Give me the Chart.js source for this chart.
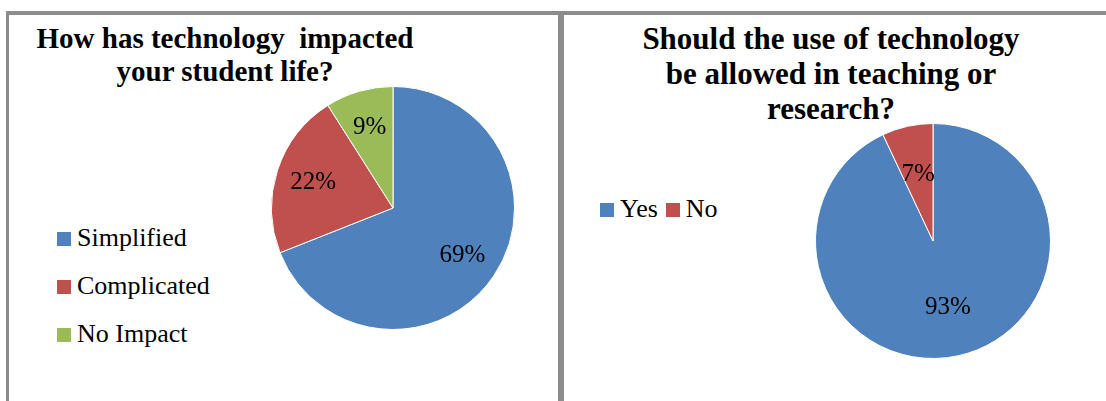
<html>
<head>
<script src="https://cdn.jsdelivr.net/npm/chart.js@4.4.1/dist/chart.umd.min.js"></script>
<style>
  body { margin: 0; background: #fff; width: 1106px; height: 401px; overflow: hidden; position: relative; }
  .panel { position: absolute; box-sizing: border-box; border: 0 solid #8c8c8c; }
  .title { position: absolute; font-family: "Times New Roman", "Liberation Serif", "DejaVu Serif", serif; font-weight: bold; text-align: center; white-space: nowrap; color: #000; }
  .legend { position: absolute; font-family: "Times New Roman", "Liberation Serif", "DejaVu Serif", serif; font-size: 26px; color: #000; white-space: nowrap; }
  .legend .sw { display: inline-block; width: 14px; height: 14px; margin-right: 6px; }
  .box { position: absolute; }
</style>
</head>
<body>
<div class="panel" style="left:6px;top:11px;width:555px;height:400px;border-left-width:3px;border-top-width:4px;border-right-width:3px;"></div>
<div class="panel" style="left:561px;top:11px;width:560px;height:400px;border-left-width:3px;border-top-width:4px;"></div>

<div class="title" id="title1" style="left:25px;top:22px;width:400px;font-size:29px;line-height:33px;"></div>
<div class="title" id="title2" style="left:631px;top:21px;width:400px;font-size:31px;line-height:35px;"></div>

<div class="legend" id="legend1" style="left:57px;top:214px;line-height:48px;"></div>
<div class="legend" id="legend2" style="left:600px;top:192px;line-height:34px;"></div>

<div class="box" style="left:271px;top:86px;width:244px;height:244px;"><canvas id="pie1"></canvas></div>
<div class="box" style="left:815px;top:123px;width:236px;height:236px;"><canvas id="pie2"></canvas></div>

<script>
// chart 1
let title1 = ['How has technology  impacted', 'your student life?'];
let labels1 = ['Simplified', 'Complicated', 'No Impact'];
let values1 = [69, 22, 9];

// chart 2
let title2 = ['Should the use of technology', 'be allowed in teaching or', 'research?'];
let labels2 = ['Yes', 'No'];
let values2 = [93, 7];

let colors = ['#4f81bd', '#c0504d', '#9bbb59'];

document.getElementById('title1').innerHTML = title1.join('<br>').replace(/  /g, ' &nbsp;');
document.getElementById('title2').innerHTML = title2.join('<br>');

// draws the percent inside each slice
let pctLabels = {
  id: 'pctLabels',
  afterDatasetsDraw: function(chart, args, opts) {
    let ctx = chart.ctx;
    let meta = chart.getDatasetMeta(0);
    let data = chart.data.datasets[0].data;
    ctx.save();
    ctx.font = '25px "Times New Roman", "Liberation Serif", serif';
    ctx.fillStyle = '#000';
    ctx.textAlign = 'center';
    ctx.textBaseline = 'middle';
    for (let i = 0; i < meta.data.length; i++) {
      let arc = meta.data[i];
      let mid = (arc.startAngle + arc.endAngle) / 2;
      let r = arc.outerRadius * opts.ratio;
      ctx.fillText(data[i] + '%', arc.x + Math.cos(mid) * r, arc.y + Math.sin(mid) * r);
    }
    ctx.restore();
  }
};

function makePie(id, labels, values, ratio) {
  return new Chart(document.getElementById(id), {
    type: 'pie',
    data: {
      labels: labels,
      datasets: [{
        data: values,
        backgroundColor: colors.slice(0, values.length),
        borderColor: '#ffffff',
        borderWidth: 1
      }]
    },
    options: {
      responsive: true,
      maintainAspectRatio: false,
      animation: false,
      layout: { padding: 0 },
      plugins: {
        legend: { display: false },
        title: { display: false },
        tooltip: { enabled: false },
        pctLabels: { ratio: ratio }
      }
    },
    plugins: [pctLabels]
  });
}

let chart1 = makePie('pie1', labels1, values1, 0.69);
let chart2 = makePie('pie2', labels2, values2, 0.58);

function makeLegend(id, chart, vertical) {
  let el = document.getElementById(id);
  let html = '';
  chart.data.labels.forEach(function(lab, i) {
    let c = chart.data.datasets[0].backgroundColor[i];
    let item = '<span class="sw" style="background:' + c + '"></span>' + lab;
    if (vertical) {
      html += '<div>' + item + '</div>';
    } else {
      html += '<span style="margin-right:8px">' + item + '</span>';
    }
  });
  el.innerHTML = html;
}
makeLegend('legend1', chart1, true);
makeLegend('legend2', chart2, false);
</script>
</body>
</html>
